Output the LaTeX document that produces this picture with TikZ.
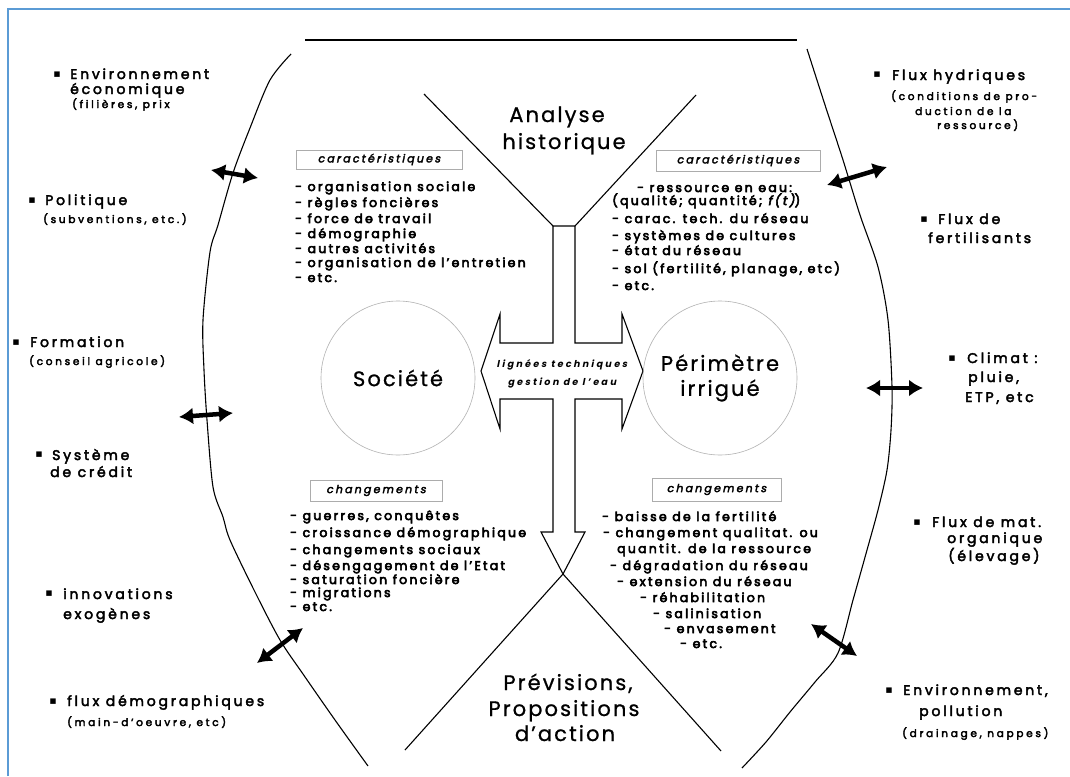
\documentclass[tikz,border=0pt]{standalone}
\usepackage{fontspec}
\setmainfont{Poppins}
\usetikzlibrary{arrows.meta}
\newfontfamily\sidef[LetterSpace=20,FakeBold=3]{Poppins}
\newfontfamily\subf[LetterSpace=26,FakeBold=3.5]{Poppins}
\newfontfamily\listf[LetterSpace=18,FakeBold=4.5]{Poppins}
\newfontfamily\listsl[LetterSpace=18,FakeSlant=0.2,FakeBold=4.5]{Poppins}
\newfontfamily\boxf[LetterSpace=20,FakeSlant=0.2,FakeBold=3]{Poppins}
\newfontfamily\titf[LetterSpace=10,FakeBold=0.8]{Poppins}
\newfontfamily\crossf[LetterSpace=25,FakeSlant=0.2]{Poppins}
\newfontfamily\dvf{DejaVu Sans}
\definecolor{framec}{RGB}{91,155,213}
\tikzset{
  sidelbl/.style={inner sep=0pt, anchor=base west, font=\sidef\fontsize{14}{16}\selectfont},
  sublbl/.style={inner sep=0pt, anchor=base west, font=\subf\fontsize{10.5}{12}\selectfont},
  item/.style={inner sep=0pt, anchor=base west, font=\listf\fontsize{12.5}{14}\selectfont},
  tagbox/.style={draw=gray!65, line width=0.7pt, inner sep=0pt, font=\boxf\fontsize{11}{13}\selectfont},
  titl/.style={inner sep=0pt, anchor=base, font=\titf\fontsize{21}{24}\selectfont},
  bul/.style={inner sep=0pt, font=\dvf\fontsize{11}{11}\selectfont},
  ring/.style={circle, draw=gray!60, line width=0.6pt, inner sep=0pt, minimum size=154pt, font=\titf\fontsize{21}{25}\selectfont, align=center},
  crosstxt/.style={inner sep=0pt, anchor=base, font=\crossf\bfseries\fontsize{9.5}{11}\selectfont},
  dbl/.style={line width=4.5pt, {Latex[length=14pt,width=17pt]}-{Latex[length=14pt,width=17pt]}},
  outline/.style={line width=1.1pt},
}
\begin{document}
\begin{tikzpicture}[x=1pt,y=-1pt]
\useasboundingbox (0,0) rectangle (1070,776);
\fill[white] (0,0) rectangle (1070,776);
% blue frame (left and top edges)
\draw[framec, line width=2pt] (8,776) -- (8,9) -- (1070,9);

% top bar
\coordinate (topL) at (305,40);
\coordinate (topR) at (797,40);
\draw[line width=2.2pt] (topL) -- (topR);

% big side curves
\draw[outline] plot[smooth] coordinates {(291,54) (270,80) (250,128) (233,173) (218,225) (210,252) (203,320) (204,370) (207,420) (213,487) (223,517) (230,540) (255,592) (280,640) (303,674) (335,720) (368,766)};
\draw[outline] plot[smooth] coordinates {(807,49) (825,105) (843,160) (860,215) (878,267) (888,320) (892,387) (891,430) (887,470) (878,510) (867,550) (853,600) (838,653) (815,682) (790,712) (766,742) (742,768)};

% Y top
\coordinate (yL) at (424,94);
\coordinate (yR) at (696,95);
\coordinate (stemTL) at (553,226);
\coordinate (stemTR) at (575,226);
\draw[outline] (yL) -- (stemTL);
\draw[outline] (yR) -- (stemTR);

% cross-shaped arrow
\draw[outline] (stemTL) -- (553,343) -- (500,343) -- (500,314) -- (481,371) -- (500,429) -- (500,399) -- (553,399) -- (553,532) -- (541,532) -- (563,574) coordinate (tip) -- (585,532) -- (575,532) -- (575,399) -- (622,399) -- (622,429) -- (643,371) -- (622,314) -- (622,343) -- (575,343) -- (stemTR) -- cycle;

% lower Lambda
\coordinate (lamL) at (405,750);
\coordinate (lamR) at (721,751);
\draw[outline] (tip) -- (lamL);
\draw[outline] (tip) -- (lamR);

% titles
\node[titl] (an1) at (557,122) {Analyse};
\node[titl] (an2) at (564,149) {historique};
\node[titl] (pr1) at (568,690) {Prévisions,};
\node[titl] (pr2) at (564,716) {Propositions};
\node[titl] (pr3) at (565,741) {d’action};

% circles
\node[ring] (soc) at (398,378) {Société};
\node[ring] (per) at (720,378) {Périmètre\\irrigué};

% cross text
\node[crosstxt] (ct1) at (562,367) {lignées techniques};
\node[crosstxt] (ct2) at (562,385) {gestion de l’eau};

% tag boxes
\node[tagbox, minimum width=166pt, minimum height=19pt] (tc1) at (379,159.5) {caractéristiques};
\node[tagbox, minimum width=164pt, minimum height=21pt] (tc2) at (738,160.5) {caractéristiques};
\node[tagbox, minimum width=132pt, minimum height=21pt] (tg1) at (376,490.5) {changements};
\node[tagbox, minimum width=129pt, minimum height=23pt] (tg2) at (716.5,489.5) {changements};

% left characteristics
\node[item] (lc1) at (295,191) {- organisation sociale};
\node[item] (lc2) at (295,207) {- règles foncières};
\node[item] (lc3) at (295,223) {- force de travail};
\node[item] (lc4) at (295,238) {- démographie};
\node[item] (lc5) at (295,253) {- autres activités};
\node[item] (lc6) at (295,267) {- organisation de l’entretien};
\node[item] (lc7) at (295,282) {- etc.};

% right characteristics
\node[item] (rc1) at (637,192) {- ressource en eau:};
\node[item] (rc2) at (612,205) {(qualité; quantité; {\listsl f(t)})};
\node[item] (rc3) at (612,223) {- carac. tech. du réseau};
\node[item] (rc4) at (612,240) {- systèmes de cultures};
\node[item] (rc5) at (612,255) {- état du réseau};
\node[item] (rc6) at (612,273) {- sol (fertilité, planage, etc)};
\node[item] (rc7) at (612,290) {- etc.};

% left changes
\node[item] (lg1) at (290,520) {- guerres, conquêtes};
\node[item] (lg2) at (290,537) {- croissance démographique};
\node[item] (lg3) at (290,554) {- changements sociaux};
\node[item] (lg4) at (290,570) {- désengagement de l’Etat};
\node[item] (lg5) at (290,584) {- saturation foncière};
\node[item] (lg6) at (290,597) {- migrations};
\node[item] (lg7) at (290,611) {- etc.};

% right changes
\node[item] (rg1) at (602,521) {- baisse de la fertilité};
\node[item] (rg2) at (603,537) {- changement qualitat. ou};
\node[item] (rg3) at (617,553) {quantit. de la ressource};
\node[item] (rg4) at (610,570) {- dégradation du réseau};
\node[item] (rg5) at (617,586) {- extension du réseau};
\node[item] (rg6) at (640,602) {- réhabilitation};
\node[item] (rg7) at (653,618) {- salinisation};
\node[item] (rg8) at (664,633) {- envasement};
\node[item] (rg9) at (680,648) {- etc.};

% left side labels
\node[bul] (b1) at (57,75) {▪};
\node[sidelbl] (l1a) at (70,79) {Environnement};
\node[sidelbl] (l1b) at (70,94) {économique};
\node[sublbl] (l1c) at (72,108) {(filières, prix};
\node[bul] (b2) at (32,201) {▪};
\node[sidelbl] (l2a) at (45,205) {Politique};
\node[sublbl] (l2b) at (43,223) {(subventions, etc.)};
\node[bul] (b3) at (16,343) {▪};
\node[sidelbl] (l3a) at (30,347) {Formation};
\node[sublbl] (l3b) at (29,365) {(conseil agricole)};
\node[bul] (b4) at (39,455) {▪};
\node[sidelbl] (l4a) at (52,460) {Système};
\node[sidelbl] (l4b) at (50,477) {de crédit};
\node[bul] (b5) at (49,594) {▪};
\node[sidelbl] (l5a) at (63,599) {innovations};
\node[sidelbl] (l5b) at (63,619) {exogènes};
\node[bul] (b6) at (53,702) {▪};
\node[sidelbl] (l6a) at (67,706) {flux démographiques};
\node[sublbl] (l6b) at (67,726) {(main-d’oeuvre, etc)};

% right side labels
\node[bul] (b7) at (877,75) {▪};
\node[sidelbl] (r1a) at (892,80) {Flux hydriques};
\node[sublbl] (r1b) at (891,100) {(conditions de pro-};
\node[sublbl] (r1c) at (915,115) {duction de la};
\node[sublbl] (r1d) at (937,129) {ressource)};
\node[bul] (b8) at (924,220) {▪};
\node[sidelbl] (r2a) at (938,224) {Flux de};
\node[sidelbl] (r2b) at (928,243) {fertilisants};
\node[bul] (b9) at (952,359) {▪};
\node[sidelbl] (r3a) at (967,363) {Climat :};
\node[sidelbl] (r3b) at (968,382) {pluie,};
\node[sidelbl] (r3c) at (965,402) {ETP, etc};
\node[bul] (b10) at (917,523) {▪};
\node[sidelbl] (r4a) at (932,527) {Flux de mat.};
\node[sidelbl] (r4b) at (947,543) {organique};
\node[sidelbl] (r4c) at (948,561) {(élevage)};
\node[bul] (b11) at (889,691) {▪};
\node[sidelbl] (r5a) at (903,695) {Environnement,};
\node[sidelbl] (r5b) at (919,716) {pollution};
\node[sublbl] (r5c) at (902,737) {(drainage, nappes)};

% exchange arrows across the boundary
\coordinate (a1s) at (211,170); \coordinate (a1e) at (258,178);
\coordinate (a2s) at (179,417); \coordinate (a2e) at (233,413);
\coordinate (a3s) at (257,663); \coordinate (a3e) at (303,628);
\coordinate (a4s) at (827,185); \coordinate (a4e) at (887,167);
\coordinate (a5s) at (866,388); \coordinate (a5e) at (923,388);
\coordinate (a6s) at (811,624); \coordinate (a6e) at (857,656);
\draw[dbl] (a1s) -- (a1e);
\draw[dbl] (a2s) -- (a2e);
\draw[dbl] (a3s) -- (a3e);
\draw[dbl] (a4s) -- (a4e);
\draw[dbl] (a5s) -- (a5e);
\draw[dbl] (a6s) -- (a6e);
\end{tikzpicture}
\end{document}
